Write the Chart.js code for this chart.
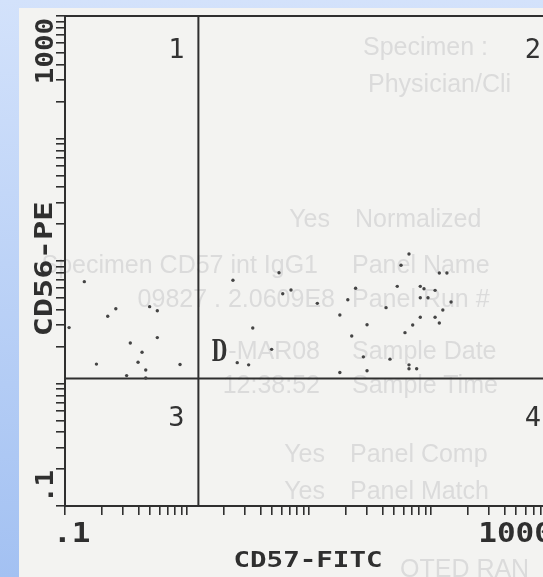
<!DOCTYPE html>
<html>
<head>
<meta charset="utf-8">
<script src="https://cdn.jsdelivr.net/npm/chart.js@4.4.1/dist/chart.umd.min.js"></script>
<style>
  html, body { margin: 0; padding: 0; width: 543px; height: 577px; overflow: hidden; }
  body { position: relative; background: linear-gradient(to bottom, #d3e2fb, #a3c1f2); }
  #panel { position: absolute; left: 19px; top: 8px; width: 524px; height: 569px; background: #f3f3f1; }
  .ghost { position: absolute; font-family: "Liberation Sans", Arial, sans-serif; font-size: 25px; line-height: 28px; color: #dbdbdb; white-space: nowrap; filter: blur(0.7px); }
  #wrap { position: absolute; left: 0; top: 0; }
</style>
</head>
<body>
<div id="panel"></div>
<!-- faded report text showing through behind the plot -->
<div class="ghost" style="left:363px;top:32px">Specimen :</div>
<div class="ghost" style="left:368px;top:69px">Physician/Cli</div>
<div class="ghost" style="right:213px;top:204px">Yes</div>
<div class="ghost" style="left:355px;top:204px">Normalized</div>
<div class="ghost" style="right:225px;top:250px">Specimen CD57 int IgG1</div>
<div class="ghost" style="left:352px;top:250px">Panel Name</div>
<div class="ghost" style="right:208px;top:284px">09827 . 2.0609E8</div>
<div class="ghost" style="left:352px;top:284px">Panel Run #</div>
<div class="ghost" style="right:223px;top:336px">-MAR08</div>
<div class="ghost" style="left:352px;top:336px">Sample Date</div>
<div class="ghost" style="right:223px;top:370px">12:38:52</div>
<div class="ghost" style="left:352px;top:370px">Sample Time</div>
<div class="ghost" style="right:218px;top:439px">Yes</div>
<div class="ghost" style="left:350px;top:439px">Panel Comp</div>
<div class="ghost" style="right:218px;top:476px">Yes</div>
<div class="ghost" style="left:350px;top:476px">Panel Match</div>
<div class="ghost" style="left:400px;top:554px">OTED RAN</div>
<div id="wrap"><canvas id="plot" width="600" height="577"></canvas></div>
<script>
// events (log units)
const CD57_FITC = [0.144, 0.108, 0.261, 0.224, 0.494, 0.571, 0.343, 0.571, 0.428, 0.397,
  0.181, 0.459, 0.877, 0.320, 0.459, 2.38, 2.58, 3.20, 3.46, 4.94,
  5.68, 6.09, 7.12, 11.7, 17.9, 24.1, 20.8, 22.4, 29.9, 27.9,
  46.1, 17.9, 29.9, 42.8, 52.9, 56.8, 66.0, 61.2, 70.8, 66.0,
  66.0, 76.3, 81.7, 87.6, 81.7, 94.5, 81.7, 108, 117, 135,
  146, 125, 108, 117];
const CD56_PE = [6.78, 2.86, 4.08, 3.54, 4.24, 3.93, 2.14, 2.37, 1.80, 1.49,
  1.44, 1.29, 1.43, 1.16, 1.11, 6.96, 1.48, 1.42, 2.84, 1.90,
  8.02, 5.41, 5.80, 4.51, 3.62, 5.99, 4.83, 2.44, 3.02, 1.65,
  1.58, 1.23, 1.27, 4.16, 6.21, 9.22, 11.4, 2.60, 3.00, 1.42,
  1.32, 1.32, 6.21, 5.94, 5.01, 5.01, 3.47, 5.76, 7.98, 7.98,
  4.63, 3.98, 3.47, 3.12];

const AXIS_MIN = 0.1;
const AXIS_MAX = 1000;
const DECADES = [0.1, 1, 10, 100];
const MANTISSAS = [1, 2, 3, 4, 5, 6, 7, 8, 9];
const X_TICK_LABELS = [".1", "1000"];
const X_TICK_VALUES = [0.1, 1000];
const Y_TICK_LABELS = [".1", "1000"];
const Y_TICK_VALUES = [0.1, 1000];
const X_TITLE = "CD57-FITC";
const Y_TITLE = "CD56-PE";
const QUADRANTS = ["1", "2", "3", "4"];
const GATE_X = 1.24;
const GATE_Y = 1.10;
const REGION_NAME = "D";

const INK = "#2f2f2f";
const MONO = '"DejaVu Sans Mono", monospace';

const tickValues = [];
for (const d of DECADES) for (const m of MANTISSAS) tickValues.push(+(d * m).toPrecision(3));
tickValues.push(AXIS_MAX);

function text(ctx, str, x, y, o) {
  ctx.save();
  ctx.translate(x, y);
  if (o.rot) ctx.rotate(o.rot);
  ctx.scale(o.sx || 1, 1);
  ctx.font = o.font;
  ctx.fillStyle = o.color || INK;
  ctx.textAlign = o.align || "left";
  ctx.textBaseline = "alphabetic";
  ctx.fillText(str, 0, 0);
  ctx.restore();
}

const plotDecor = {
  id: "plotDecor",
  beforeDatasetsDraw(chart) {
    const { ctx, chartArea: a, scales: { x, y } } = chart;
    const gx = x.getPixelForValue(GATE_X);
    const gy = y.getPixelForValue(GATE_Y);
    ctx.save();
    ctx.strokeStyle = INK;
    ctx.lineWidth = 2;
    ctx.beginPath();
    ctx.moveTo(a.left, a.top); ctx.lineTo(a.right, a.top);
    ctx.moveTo(gx, a.top); ctx.lineTo(gx, a.bottom);
    ctx.moveTo(a.left, gy); ctx.lineTo(a.right, gy);
    ctx.stroke();
    ctx.restore();
  },
  afterDraw(chart) {
    const { ctx, chartArea: a, scales: { x, y } } = chart;
    const gx = x.getPixelForValue(GATE_X);
    const gy = y.getPixelForValue(GATE_Y);

    // tick labels
    text(ctx, X_TICK_LABELS[0], x.getPixelForValue(X_TICK_VALUES[0]) - 12, a.bottom + 36,
      { font: "bold 27px " + MONO, sx: 1.15 });
    text(ctx, X_TICK_LABELS[1], x.getPixelForValue(X_TICK_VALUES[1]), a.bottom + 36,
      { font: "bold 27px " + MONO, sx: 1.15, align: "right" });
    text(ctx, Y_TICK_LABELS[0], 53, y.getPixelForValue(Y_TICK_VALUES[0]) - 3,
      { font: "bold 25px " + MONO, sx: 1.1, rot: -Math.PI / 2 });
    text(ctx, Y_TICK_LABELS[1], 53, y.getPixelForValue(Y_TICK_VALUES[1]) + 2,
      { font: "bold 25px " + MONO, sx: 1.1, rot: -Math.PI / 2, align: "right" });

    // axis titles
    text(ctx, X_TITLE, 308, 567, { font: "bold 21px " + MONO, sx: 1.31, align: "center" });
    text(ctx, Y_TITLE, 52, 269, { font: "bold 25px " + MONO, sx: 1.28, align: "center", rot: -Math.PI / 2 });

    // quadrant numbers and region name
    const qf = { font: "27px " + MONO, align: "right", color: "#333" };
    text(ctx, QUADRANTS[0], gx - 14, a.top + 42, qf);
    text(ctx, QUADRANTS[1], a.right - 12, a.top + 42, qf);
    text(ctx, QUADRANTS[2], gx - 14, gy + 48, qf);
    text(ctx, QUADRANTS[3], a.right - 12, gy + 48, qf);
    text(ctx, REGION_NAME, gx + 13, gy - 17, { font: 'bold 30px "DejaVu Serif", serif', sx: 0.6, color: "#333" });
  },
};

const logAxis = (axisId) => ({
  type: "logarithmic",
  min: AXIS_MIN,
  max: AXIS_MAX,
  afterBuildTicks: (s) => { s.ticks = tickValues.map((v) => ({ value: v })); },
  afterFit: (s) => { if (axisId === "x") s.height = 71; else s.width = 65; },
  ticks: { display: false },
  grid: { drawOnChartArea: false, drawTicks: true, tickLength: 9, color: INK, lineWidth: 1.6 },
  border: { display: true, color: INK, width: 2 },
});

new Chart(document.getElementById("plot"), {
  type: "scatter",
  data: {
    datasets: [{
      data: CD57_FITC.map((v, i) => ({ x: v, y: CD56_PE[i] })),
      pointRadius: 1.7,
      pointBackgroundColor: "#444444",
      pointBorderWidth: 0,
    }],
  },
  options: {
    animation: false,
    responsive: false,
    devicePixelRatio: 1,
    layout: { padding: { left: 0, top: 16, right: 47, bottom: 0 } },
    plugins: { legend: { display: false }, tooltip: { enabled: false } },
    scales: { x: logAxis("x"), y: logAxis("y") },
  },
  plugins: [plotDecor],
});
</script>
</body>
</html>
